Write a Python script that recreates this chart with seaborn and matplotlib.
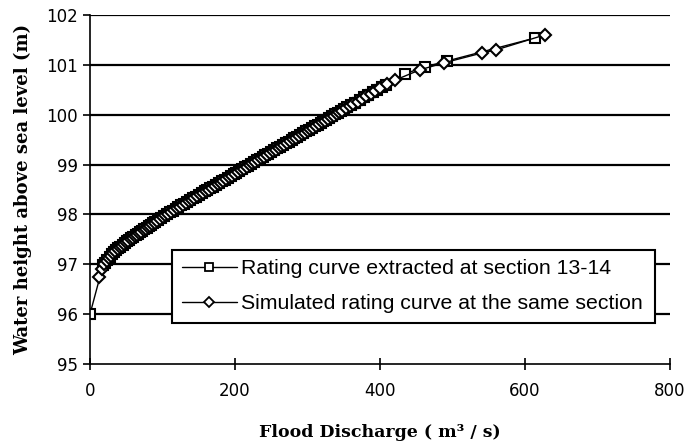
import matplotlib
matplotlib.use("Agg")
import matplotlib.pyplot as plt
import seaborn as sns
import pandas as pd

# Rating curve extracted at section 13-14 (squares)
rating_q = [0, 18, 21, 24, 27, 30, 33, 36, 39, 42, 45, 48, 51, 54, 57, 60, 63, 66, 69,
            72, 75, 78, 81, 84, 87, 90, 94, 98, 102, 106, 110, 114, 118, 122, 126, 130,
            134, 138, 142, 146, 150, 154, 158, 162, 166, 170, 174, 178, 182, 186, 190,
            194, 198, 202, 206, 210, 214, 218, 222, 226, 230, 234, 238, 242, 246, 250,
            254, 258, 262, 266, 270, 274, 278, 282, 286, 290, 294, 298, 302, 306, 310,
            314, 318, 322, 326, 330, 334, 338, 342, 346, 350, 355, 360, 366, 372, 378,
            384, 390, 396, 402, 408, 434, 462, 493, 614]
rating_h = [96.0, 96.98, 97.03, 97.08, 97.14, 97.2, 97.24, 97.28, 97.32, 97.35, 97.39,
            97.43, 97.46, 97.49, 97.52, 97.55, 97.58, 97.61, 97.64, 97.67, 97.7, 97.73,
            97.76, 97.79, 97.82, 97.85, 97.89, 97.93, 97.97, 98.0, 98.04, 98.07, 98.11,
            98.14, 98.18, 98.21, 98.25, 98.28, 98.32, 98.35, 98.39, 98.42, 98.46, 98.49,
            98.53, 98.56, 98.6, 98.63, 98.67, 98.7, 98.74, 98.77, 98.81, 98.84, 98.88,
            98.91, 98.95, 98.98, 99.02, 99.05, 99.09, 99.12, 99.16, 99.19, 99.22, 99.26,
            99.29, 99.33, 99.36, 99.39, 99.43, 99.46, 99.5, 99.53, 99.56, 99.6, 99.63,
            99.67, 99.7, 99.73, 99.77, 99.8, 99.84, 99.87, 99.9, 99.94, 99.97, 100.01,
            100.04, 100.07, 100.11, 100.15, 100.19, 100.24, 100.3, 100.35, 100.4, 100.45,
            100.5, 100.55, 100.6, 100.82, 100.96, 101.08, 101.54]

# Simulated rating curve at the same section (diamonds)
sim_q = [12, 16, 20, 23, 26, 29, 32, 35, 38, 41, 44, 47, 50, 53, 56, 59, 62, 65, 68, 71,
         74, 77, 80, 83, 86, 89, 92, 96, 100, 104, 108, 112, 116, 120, 124, 128, 132,
         136, 140, 144, 148, 152, 156, 160, 164, 168, 172, 176, 180, 184, 188, 192, 196,
         200, 204, 208, 212, 216, 220, 224, 228, 232, 236, 240, 244, 248, 252, 256, 260,
         264, 268, 272, 276, 280, 284, 288, 292, 296, 300, 304, 308, 312, 316, 320, 324,
         328, 332, 336, 340, 344, 348, 353, 358, 363, 369, 375, 381, 387, 393, 400, 410,
         420, 455, 488, 541, 560, 627]
sim_h = [96.75, 96.9, 97.0, 97.06, 97.12, 97.17, 97.22, 97.26, 97.3, 97.34, 97.37, 97.41,
         97.44, 97.47, 97.5, 97.53, 97.56, 97.59, 97.62, 97.65, 97.68, 97.71, 97.74,
         97.77, 97.8, 97.83, 97.86, 97.9, 97.94, 97.98, 98.01, 98.05, 98.08, 98.12,
         98.15, 98.19, 98.22, 98.26, 98.29, 98.33, 98.36, 98.4, 98.43, 98.47, 98.5,
         98.54, 98.57, 98.61, 98.64, 98.68, 98.71, 98.75, 98.78, 98.82, 98.85, 98.89,
         98.92, 98.96, 98.99, 99.03, 99.06, 99.1, 99.13, 99.16, 99.2, 99.23, 99.27,
         99.3, 99.34, 99.37, 99.4, 99.44, 99.47, 99.51, 99.54, 99.57, 99.61, 99.64,
         99.68, 99.71, 99.74, 99.78, 99.81, 99.85, 99.88, 99.91, 99.95, 99.98, 100.02,
         100.05, 100.08, 100.13, 100.17, 100.21, 100.26, 100.32, 100.37, 100.42, 100.47,
         100.53, 100.61, 100.69, 100.9, 101.04, 101.24, 101.3, 101.6]

labels = ["Rating curve extracted at section 13-14",
          "Simulated rating curve at the same section"]
x_ticks = [0, 200, 400, 600, 800]
y_ticks = [95, 96, 97, 98, 99, 100, 101, 102]

sns.set_style("white")
plt.rcParams['font.family'] = ['DejaVu Sans']
plt.rcParams['text.color'] = 'black'

df_r = pd.DataFrame({"q": rating_q, "h": rating_h})
df_s = pd.DataFrame({"q": sim_q, "h": sim_h})

fig = plt.figure(figsize=(6.88, 4.48), dpi=100)
ax = fig.add_axes([0.1308, 0.1875, 0.974 - 0.1308, 0.9665 - 0.1875])

for y in y_ticks[1:]:
    ax.axhline(y, color="black", lw=1.6, zorder=0)

sns.lineplot(data=df_r, x="q", y="h", ax=ax, sort=False, estimator=None,
             color="black", lw=1.0, marker="s", markersize=7,
             markerfacecolor="white", markeredgecolor="black", markeredgewidth=1.5,
             label=labels[0])
sns.lineplot(data=df_s, x="q", y="h", ax=ax, sort=False, estimator=None,
             color="black", lw=1.0, marker="D", markersize=6.5,
             markerfacecolor="white", markeredgecolor="black", markeredgewidth=1.5,
             label=labels[1])

ax.set_xlim(0, 800)
ax.set_ylim(95, 102)
ax.set_xticks(x_ticks)
ax.set_yticks(y_ticks)
ax.tick_params(axis="both", labelsize=12, colors="black")
ax.tick_params(axis="y", direction="out", length=5, width=1.2, left=True)
ax.tick_params(axis="x", direction="inout", length=8, width=1.2, bottom=True, pad=9)

for s in ["top", "right"]:
    ax.spines[s].set_visible(False)
for s in ["left", "bottom"]:
    ax.spines[s].set_color("black")
    ax.spines[s].set_linewidth(1.2)

ax.set_xlabel("Flood Discharge ( m³ / s)", family="DejaVu Serif",
              fontweight="bold", fontsize=12.5, labelpad=17, color="black")
ax.set_ylabel("Water height above sea level (m)", family="DejaVu Serif",
              fontweight="bold", fontsize=13, labelpad=10, color="black")

leg = ax.legend(loc="lower left", bbox_to_anchor=(0.1414, 0.117, 0.833, 0.218),
                mode="expand", frameon=True, fancybox=False,
                edgecolor="black", framealpha=1, handlelength=2.6,
                handletextpad=0.2, borderaxespad=0, borderpad=0.46,
                labelspacing=0.75, prop={"family": "Liberation Sans", "size": 15.3})
leg.get_frame().set_linewidth(1.5)
for t in leg.get_texts():
    t.set_color("black")
for h in leg.get_lines():
    h.set_markersize(5.5)
    h.set_markeredgewidth(1.3)

fig.savefig("out.png", dpi=100)
